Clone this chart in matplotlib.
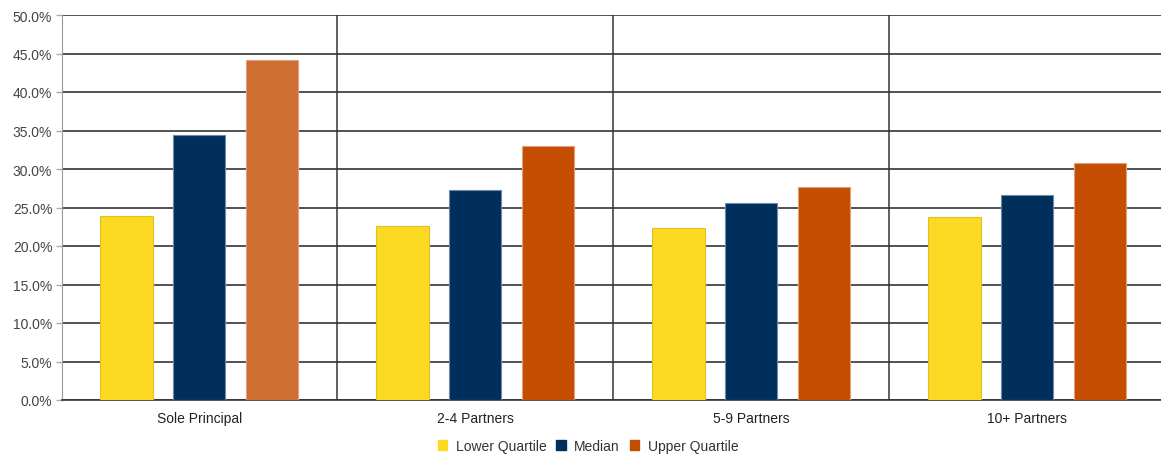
import numpy as np
import matplotlib
matplotlib.use("Agg")
from matplotlib import pyplot as plt
from matplotlib.patches import Patch

plt.rcParams['font.family'] = ['Liberation Sans', 'DejaVu Sans']

categories = ['Sole Principal', '2-4 Partners', '5-9 Partners', '10+ Partners']
series = ['Lower Quartile', 'Median', 'Upper Quartile']
lower_quartile = [23.9, 22.6, 22.3, 23.8]
median = [34.4, 27.3, 25.6, 26.6]
upper_quartile = [44.2, 33.0, 27.7, 30.8]

colors = ['#FCDA24', '#002F5C', '#C44D00']
upper_colors = ['#CE6F33', '#C44D00', '#C44D00', '#C44D00']
edge_colors = ['#E0C020', '#6F8AA5', '#E0A080']

fig = plt.figure(figsize=(11.61, 4.56), dpi=100)
ax = fig.add_axes([62 / 1161, 1 - 401 / 456, 1104 / 1161, 385 / 456])

x = np.arange(len(categories))
width = 0.19
offset = 0.264

ax.bar(x - offset, lower_quartile, width, color=colors[0], edgecolor=edge_colors[0],
       linewidth=0.8, zorder=3)
ax.bar(x, median, width, color=colors[1], edgecolor=edge_colors[1],
       linewidth=0.8, zorder=3)
ax.bar(x + offset, upper_quartile, width, color=upper_colors, edgecolor=edge_colors[2],
       linewidth=0.8, zorder=3)

ax.set_xlim(-0.497, len(categories) - 0.497)
ax.set_ylim(0, 50)
ax.set_yticks(np.arange(0, 50.1, 5))
ax.set_yticklabels([f'{v:.1f}%' for v in np.arange(0, 50.1, 5)])
ax.yaxis.grid(True, color='#333333', linewidth=1.2, zorder=0)
for b in np.arange(0.5, len(categories) - 0.5, 1):
    ax.axvline(b, color='#444444', linewidth=1.2, zorder=1)

ax.set_xticks(x)
ax.set_xticklabels(categories)
ax.tick_params(axis='x', length=0, pad=8, labelsize=10, labelcolor='#222222')
ax.tick_params(axis='y', length=4, width=1, color='#aaaaaa', pad=3,
               labelsize=10, labelcolor='#444444')

for s in ['top', 'right']:
    ax.spines[s].set_visible(False)
ax.spines['left'].set_color('#999999')
ax.spines['bottom'].set_color('#333333')
ax.spines['bottom'].set_linewidth(1.2)

handles = [Patch(color=c) for c in colors]
fig.legend(handles, series, loc='center', bbox_to_anchor=(588 / 1161, 1 - 447 / 456),
           ncol=3, frameon=False, fontsize=10, handlelength=0.7, handleheight=0.7,
           handletextpad=0.6, columnspacing=0.7, labelcolor='#333333')

fig.savefig('out.png', dpi=100)
